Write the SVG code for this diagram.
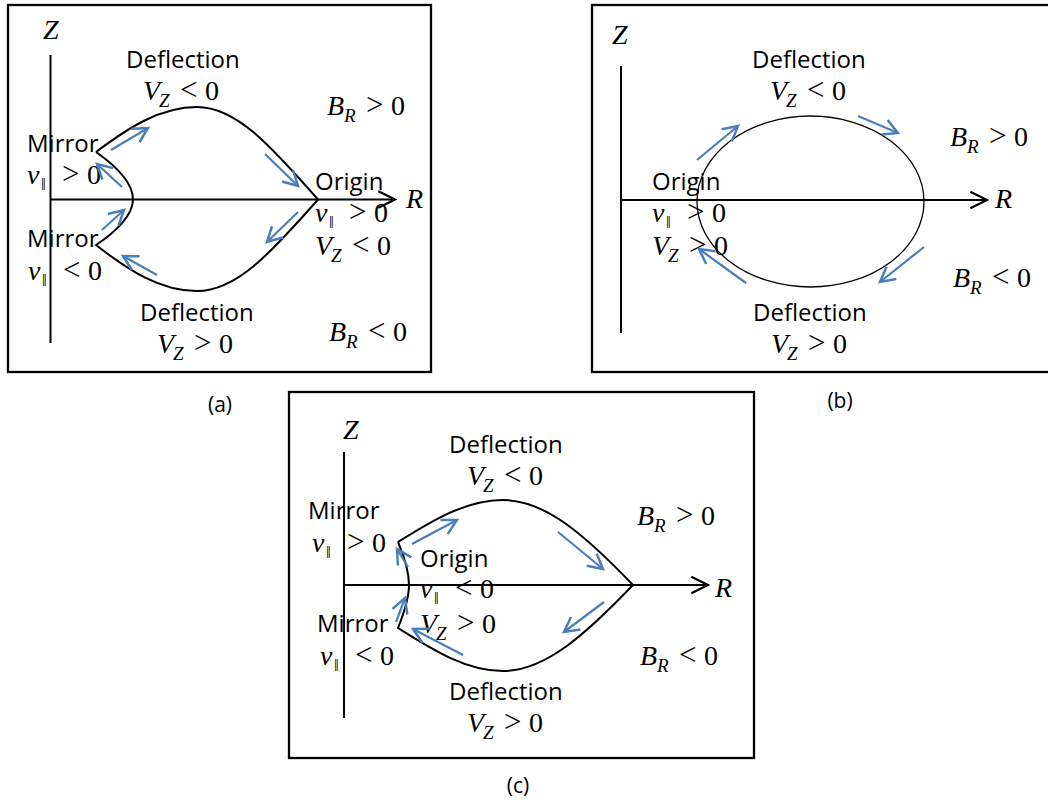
<svg xmlns="http://www.w3.org/2000/svg" width="1048" height="801" viewBox="0 0 1048 801">
<defs>
<style>
.box{fill:none;stroke:#000;stroke-width:2.3}
.axis{fill:none;stroke:#000;stroke-width:2}
.traj{fill:none;stroke:#000;stroke-width:2}
.thin{fill:none;stroke:#000;stroke-width:1.3}
.flow{fill:none;stroke:#4a7ebb;stroke-width:2.2}
.lab{font-family:"Open Sans","Liberation Sans",sans-serif;font-size:24px;fill:#000}
.cap{font-family:"Open Sans","Liberation Sans",sans-serif;font-size:21px;fill:#000}
.m{font-family:"Liberation Serif","DejaVu Serif",serif;font-size:28px;font-style:italic;fill:#000}
.op{font-style:normal;fill:#000}
.rel{font-style:normal;font-size:31px;fill:#000}
.sub{font-size:19px;fill:#000}
.par{font-style:normal;font-size:17px;fill:#000}
</style>
<marker id="ah" markerUnits="userSpaceOnUse" markerWidth="20" markerHeight="20" viewBox="0 0 18 18" refX="16" refY="9" orient="auto">
<path d="M1,1.5 L16,9 L1,16.5" fill="none" stroke="#000" stroke-width="2"/>
</marker>
<marker id="bh" markerUnits="userSpaceOnUse" markerWidth="18" markerHeight="18" viewBox="0 0 16 16" refX="14" refY="8" orient="auto">
<path d="M1,1 L14,8 L1,15" fill="none" stroke="#4a7ebb" stroke-width="2.2"/>
</marker>
</defs>
<rect width="1048" height="801" fill="#fff"/>

<!-- Panel (a) -->
<g id="panel-a">
<rect class="box" x="8" y="5" width="423" height="367"/>
<line class="axis" x1="50.5" y1="55" x2="50.5" y2="343"/>
<line class="axis" x1="50" y1="199.5" x2="395" y2="199.5" marker-end="url(#ah)"/>
<text class="m" x="43" y="39">Z</text>
<text class="m" x="406" y="208">R</text>
<path class="traj" d="M96,152 C128,128 160,107 197,107 C236,107 270,145 318,199.5 C270,254 236,291 197,291 C160,291 128,270 96,245 C116,232 133,215 133,199.5 C133,183 116,166 96,152"/>
<g id="a-deflection-top"><text class="lab" x="126" y="68">Deflection</text>
<text class="m" y="100"><tspan x="143">V</tspan><tspan class="sub" x="159" y="107">Z</tspan><tspan class="rel" x="180" y="100">&lt;</tspan><tspan class="op" x="205" y="100">0</tspan></text></g>
<g id="a-br-pos"><text class="m" y="115"><tspan x="327">B</tspan><tspan class="sub" x="344" y="122">R</tspan><tspan class="rel" x="366" y="115">&gt;</tspan><tspan class="op" x="391" y="115">0</tspan></text></g>
<g id="a-mirror-top"><text class="lab" x="27" y="152">Mirror</text>
<text class="m" y="184"><tspan x="27">v</tspan><tspan class="par" x="41" y="190">‖</tspan><tspan class="rel" x="62" y="184">&gt;</tspan><tspan class="op" x="87" y="184">0</tspan></text></g>
<g id="a-origin"><text class="lab" x="315" y="190">Origin</text>
<text class="m" y="222"><tspan x="315">v</tspan><tspan class="par" x="329" y="228">‖</tspan><tspan class="rel" x="349" y="222">&gt;</tspan><tspan class="op" x="374" y="222">0</tspan></text>
<text class="m" y="255"><tspan x="315">V</tspan><tspan class="sub" x="331" y="262">Z</tspan><tspan class="rel" x="352" y="255">&lt;</tspan><tspan class="op" x="377" y="255">0</tspan></text></g>
<g id="a-mirror-bottom"><text class="lab" x="27" y="247">Mirror</text>
<text class="m" y="280"><tspan x="28">v</tspan><tspan class="par" x="42" y="286">‖</tspan><tspan class="rel" x="63" y="280">&lt;</tspan><tspan class="op" x="88" y="280">0</tspan></text></g>
<g id="a-deflection-bottom"><text class="lab" x="140" y="321">Deflection</text>
<text class="m" y="353"><tspan x="157">V</tspan><tspan class="sub" x="173" y="360">Z</tspan><tspan class="rel" x="194" y="353">&gt;</tspan><tspan class="op" x="219" y="353">0</tspan></text></g>
<g id="a-br-neg"><text class="m" y="341"><tspan x="329">B</tspan><tspan class="sub" x="346" y="348">R</tspan><tspan class="rel" x="368" y="341">&lt;</tspan><tspan class="op" x="393" y="341">0</tspan></text></g>
<text class="cap" x="220" y="412" text-anchor="middle">(a)</text>
</g>

<!-- Panel (b) -->
<g id="panel-b">
<rect class="box" x="592" y="5" width="470" height="367"/>
<line class="axis" x1="621" y1="66" x2="621" y2="333"/>
<line class="axis" x1="621" y1="200" x2="987" y2="200" marker-end="url(#ah)"/>
<text class="m" x="612" y="44">Z</text>
<text class="m" x="995" y="208">R</text>
<ellipse class="thin" cx="810.5" cy="201.5" rx="113.5" ry="85.5"/>
<g id="b-deflection-top"><text class="lab" x="752" y="68">Deflection</text>
<text class="m" y="100"><tspan x="770">V</tspan><tspan class="sub" x="786" y="107">Z</tspan><tspan class="rel" x="807" y="100">&lt;</tspan><tspan class="op" x="832" y="100">0</tspan></text></g>
<g id="b-br-pos"><text class="m" y="146"><tspan x="950">B</tspan><tspan class="sub" x="967" y="153">R</tspan><tspan class="rel" x="989" y="146">&gt;</tspan><tspan class="op" x="1014" y="146">0</tspan></text></g>
<g id="b-origin"><text class="lab" x="652" y="190">Origin</text>
<text class="m" y="222"><tspan x="652">v</tspan><tspan class="par" x="666" y="228">‖</tspan><tspan class="rel" x="687" y="222">&gt;</tspan><tspan class="op" x="712" y="222">0</tspan></text>
<text class="m" y="255"><tspan x="652">V</tspan><tspan class="sub" x="668" y="262">Z</tspan><tspan class="rel" x="689" y="255">&gt;</tspan><tspan class="op" x="714" y="255">0</tspan></text></g>
<g id="b-br-neg"><text class="m" y="287"><tspan x="953">B</tspan><tspan class="sub" x="970" y="294">R</tspan><tspan class="rel" x="992" y="287">&lt;</tspan><tspan class="op" x="1017" y="287">0</tspan></text></g>
<g id="b-deflection-bottom"><text class="lab" x="753" y="321">Deflection</text>
<text class="m" y="353"><tspan x="771">V</tspan><tspan class="sub" x="787" y="360">Z</tspan><tspan class="rel" x="808" y="353">&gt;</tspan><tspan class="op" x="833" y="353">0</tspan></text></g>
<text class="cap" x="840" y="408" text-anchor="middle">(b)</text>
</g>

<!-- Panel (c) -->
<g id="panel-c">
<rect class="box" x="289" y="392" width="465" height="366"/>
<line class="axis" x1="344" y1="452" x2="344" y2="718"/>
<line class="axis" x1="344" y1="585" x2="708" y2="585" marker-end="url(#ah)"/>
<text class="m" x="343" y="439">Z</text>
<text class="m" x="715" y="597">R</text>
<path class="traj" d="M398,542 C430,522 465,500 503,500 C545,500 585,535 633,585 C585,635 545,671 503,671 C465,671 430,648 398,628 C404,613 409,599 409,585 C409,571 404,556 398,542"/>
<g id="c-deflection-top"><text class="lab" x="449" y="453">Deflection</text>
<text class="m" y="485"><tspan x="467">V</tspan><tspan class="sub" x="483" y="492">Z</tspan><tspan class="rel" x="504" y="485">&lt;</tspan><tspan class="op" x="529" y="485">0</tspan></text></g>
<g id="c-mirror-top"><text class="lab" x="308" y="519">Mirror</text>
<text class="m" y="552"><tspan x="312">v</tspan><tspan class="par" x="326" y="558">‖</tspan><tspan class="rel" x="347" y="552">&gt;</tspan><tspan class="op" x="372" y="552">0</tspan></text></g>
<g id="c-origin"><text class="lab" x="420" y="567">Origin</text>
<text class="m" y="598"><tspan x="420">v</tspan><tspan class="par" x="434" y="604">‖</tspan><tspan class="rel" x="455" y="598">&lt;</tspan><tspan class="op" x="480" y="598">0</tspan></text>
<text class="m" y="633"><tspan x="420">V</tspan><tspan class="sub" x="436" y="640">Z</tspan><tspan class="rel" x="457" y="633">&gt;</tspan><tspan class="op" x="482" y="633">0</tspan></text></g>
<g id="c-mirror-bottom"><text class="lab" x="317" y="632">Mirror</text>
<text class="m" y="665"><tspan x="320">v</tspan><tspan class="par" x="334" y="671">‖</tspan><tspan class="rel" x="355" y="665">&lt;</tspan><tspan class="op" x="380" y="665">0</tspan></text></g>
<g id="c-br-pos"><text class="m" y="525"><tspan x="637">B</tspan><tspan class="sub" x="654" y="532">R</tspan><tspan class="rel" x="676" y="525">&gt;</tspan><tspan class="op" x="701" y="525">0</tspan></text></g>
<g id="c-br-neg"><text class="m" y="665"><tspan x="640">B</tspan><tspan class="sub" x="657" y="672">R</tspan><tspan class="rel" x="679" y="665">&lt;</tspan><tspan class="op" x="704" y="665">0</tspan></text></g>
<g id="c-deflection-bottom"><text class="lab" x="449" y="700">Deflection</text>
<text class="m" y="732"><tspan x="467">V</tspan><tspan class="sub" x="483" y="739">Z</tspan><tspan class="rel" x="504" y="732">&gt;</tspan><tspan class="op" x="529" y="732">0</tspan></text></g>
<text class="cap" x="518" y="793" text-anchor="middle">(c)</text>
</g>

<!-- Flow arrows -->
<g id="connectors">
<line class="flow" x1="111" y1="150" x2="148" y2="128" marker-end="url(#bh)"/>
<line class="flow" x1="265" y1="154" x2="298" y2="186" marker-end="url(#bh)"/>
<line class="flow" x1="298" y1="212" x2="267" y2="242" marker-end="url(#bh)"/>
<line class="flow" x1="157" y1="275" x2="123" y2="256" marker-end="url(#bh)"/>
<line class="flow" x1="102" y1="230" x2="124" y2="210" marker-end="url(#bh)"/>
<line class="flow" x1="122" y1="187" x2="97" y2="164" marker-end="url(#bh)"/>

<line class="flow" x1="697" y1="160" x2="738" y2="126" marker-end="url(#bh)"/>
<line class="flow" x1="858" y1="116" x2="898" y2="133" marker-end="url(#bh)"/>
<line class="flow" x1="924" y1="247" x2="880" y2="282" marker-end="url(#bh)"/>
<line class="flow" x1="746" y1="283" x2="699" y2="249" marker-end="url(#bh)"/>

<line class="flow" x1="412" y1="544" x2="457" y2="520" marker-end="url(#bh)"/>
<line class="flow" x1="558" y1="532" x2="603" y2="569" marker-end="url(#bh)"/>
<line class="flow" x1="604" y1="602" x2="564" y2="632" marker-end="url(#bh)"/>
<line class="flow" x1="463" y1="655" x2="413" y2="629" marker-end="url(#bh)"/>
<line class="flow" x1="396" y1="622" x2="405" y2="598" marker-end="url(#bh)"/>
<line class="flow" x1="408" y1="567" x2="397" y2="549" marker-end="url(#bh)"/>
</g>
</svg>
